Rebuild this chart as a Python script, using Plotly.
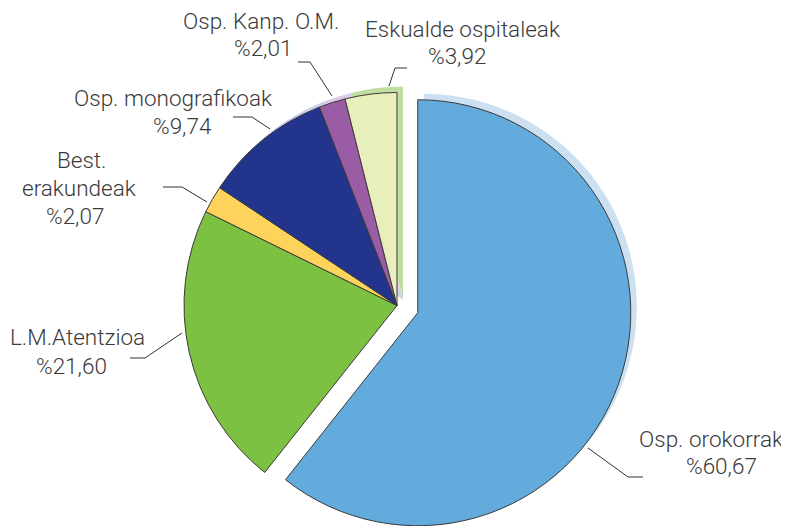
import math
import plotly.graph_objects as go

# ---------------- data ----------------
labels = ["Osp. orokorrak", "L.M.Atentzioa", "Best. erakundeak",
          "Osp. monografikoak", "Osp. Kanp. O.M.", "Eskualde ospitaleak"]
values = [60.67, 21.60, 2.07, 9.74, 2.01, 3.92]
label_lines = [["Osp. orokorrak"], ["L.M.Atentzioa"], ["Best.", "erakundeak"],
               ["Osp. monografikoak"], ["Osp. Kanp. O.M."], ["Eskualde ospitaleak"]]
value_texts = ["%60,67", "%21,60", "%2,07", "%9,74", "%2,01", "%3,92"]

# ---------------- styles ----------------
colors = ["#63abdc", "#7dc142", "#fdd35c", "#23348c", "#9a5ca4", "#e8efbd"]
shadow_colors = ["#cde0f1", "rgba(0,0,0,0)", "rgba(0,0,0,0)",
                 "#cbcde9", "#dccbe8", "#c0dea2"]
CLEAR = "rgba(0,0,0,0)"
OUTLINE = "#3a3a3a"
TEXT = "#3a3a3a"
FONT = "Roboto"
FSIZE = 22.5
FWEIGHT = 300

# page body has a default 8px margin: size the figure to fit the window and
# express all positions in window pixels, converted below
PAGE_OFF = 8
W, H = 789 - PAGE_OFF, 526 - PAGE_OFF
CX, CY, R = 397, 305.5, 213      # centre / radius of the unpulled part (window px)
PULL_PX = 22                     # pull distance of first slice
SH_DX, SH_DY = 6, -6             # shadow offset

# centre (window pixels) of every text line of each label, value line last
line_pos = [
    [(711, 440), (721, 467)],
    [(77, 338), (71, 367)],
    [(81, 161), (79, 189), (75, 217)],
    [(173, 99), (182, 127)],
    [(261, 22), (263, 49)],
    [(462, 30), (457, 57)],
]
leaders = [
    [(588, 448), (628, 477), (643, 477)],
    [(182, 333), (145, 358), (130, 358)],
    [(207, 202), (182, 187), (163, 187)],
    [(270, 129), (252, 117), (233, 117)],
    [(332, 96), (310, 62), (298, 62)],
    [(389, 86), (395, 68), (407, 68)],
]


def px(x):
    return (x - PAGE_OFF) / W


def py(y):
    return 1 - (y - PAGE_OFF) / H


def dom(cx, cy, r):
    return dict(x=[max(0, px(cx - r)), min(1, px(cx + r))],
                y=[max(0, py(cy + r)), min(1, py(cy - r))])


def pie(domain, cols, widths, hover=True):
    return go.Pie(
        labels=labels, values=values, sort=False, direction="clockwise",
        rotation=0, domain=domain, textinfo="none", showlegend=False,
        marker=dict(colors=cols, line=dict(color=OUTLINE, width=widths)),
        hoverinfo="label+percent" if hover else "skip",
    )


# offset of the pulled first slice along its mid-angle
total = sum(values)
mid = 2 * math.pi * (values[0] / total) / 2
OX, OY = CX + PULL_PX * math.sin(mid), CY - PULL_PX * math.cos(mid)

n = len(values)
rest_cols = [CLEAR] + colors[1:]
rest_w = [0] + [1] * (n - 1)
first_cols = [colors[0]] + [CLEAR] * (n - 1)
first_w = [1] + [0] * (n - 1)
rest_sh = [CLEAR] + shadow_colors[1:]
first_sh = [shadow_colors[0]] + [CLEAR] * (n - 1)
zero_w = [0] * n

fig = go.Figure()
fig.add_trace(pie(dom(CX + SH_DX, CY + SH_DY, R), rest_sh, zero_w, hover=False))
fig.add_trace(pie(dom(OX + SH_DX, OY + SH_DY, R), first_sh, zero_w, hover=False))
fig.add_trace(pie(dom(CX, CY, R), rest_cols, rest_w))
fig.add_trace(pie(dom(OX, OY, R), first_cols, first_w))

annotations = []
for lines, vt, positions in zip(label_lines, value_texts, line_pos):
    for txt, (x, y) in zip(lines + [vt], positions):
        annotations.append(dict(
            x=px(x), y=py(y - 1), xref="paper", yref="paper",
            text=txt, showarrow=False, xanchor="center", yanchor="middle",
            font=dict(family=FONT, size=FSIZE, color=TEXT, weight=FWEIGHT),
        ))

shapes = []
for pts in leaders:
    path = "M " + " L ".join(f"{px(x):.5f},{py(y):.5f}" for x, y in pts)
    shapes.append(dict(type="path", path=path, xref="paper", yref="paper",
                       line=dict(color="#333333", width=1)))

fig.update_layout(
    width=W, height=H, margin=dict(l=0, r=0, t=0, b=0),
    paper_bgcolor="white", plot_bgcolor="white",
    annotations=annotations, shapes=shapes,
)

fig.write_html("out.html")
